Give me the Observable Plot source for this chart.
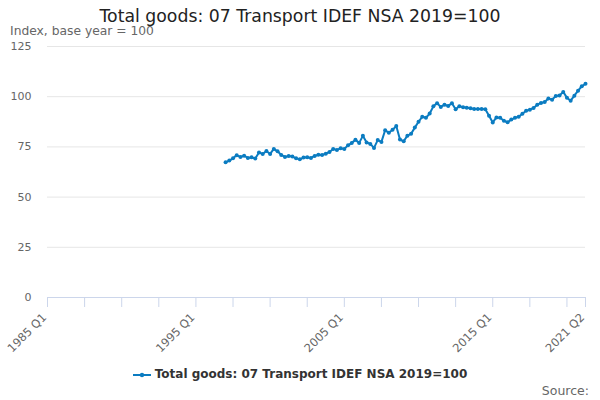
<!DOCTYPE html>
<html>
<head>
<meta charset="utf-8">
<script src="https://cdn.jsdelivr.net/npm/d3@7"></script>
<script src="https://cdn.jsdelivr.net/npm/@observablehq/plot@0.6"></script>
<style>
  html, body { margin: 0; padding: 0; background: #fff; }
  #wrap { position: relative; width: 600px; height: 400px; font-family: "DejaVu Sans", sans-serif; overflow: hidden; }
  #title { position: absolute; top: 6px; left: 0; width: 600px; text-align: center; font-size: 17.3px; color: #222; }
  #subtitle { position: absolute; top: 24px; left: 10px; font-size: 12.3px; color: #666; }
  #legend { position: absolute; top: 367px; left: 0; width: 600px; text-align: center; font-size: 12px; font-weight: bold; color: #333; }
  #legend svg { vertical-align: middle; margin-right: 4px; }
  #source { position: absolute; top: 383px; right: 11px; font-size: 12.5px; color: #666; }
  #chart { position: absolute; top: 0; left: 0; }
</style>
</head>
<body>
<div id="wrap">
  <div id="chart"></div>
  <div id="title">Total goods: 07 Transport IDEF NSA 2019=100</div>
  <div id="subtitle">Index, base year = 100</div>
  <div id="legend"><svg width="18" height="8"><line x1="0" y1="4" x2="18" y2="4" stroke="#0b7cc1" stroke-width="2"/><circle cx="9" cy="4" r="2.2" fill="#0b7cc1"/></svg>Total goods: 07 Transport IDEF NSA 2019=100</div>
  <div id="source">Source:</div>
</div>
<script>
// Axis quarters: index 0 = 1985 Q1, 145 = 2021 Q2
const firstYear = 1985;
const startQuarterIndex = 48; // 1997 Q1
const values = [
  67.3, 68.2, 69.3, 70.8, 70.0, 70.6, 69.5, 69.8, 69.2, 72.2,
  71.5, 73.0, 71.5, 74.0, 72.8, 71.0, 70.0, 70.5, 70.2, 69.3,
  68.8, 69.7, 69.8, 69.5, 70.5, 71.1, 71.0, 71.6, 72.5, 74.0,
  73.5, 74.3, 74.0, 75.8, 77.0, 78.5, 77.0, 80.5, 77.2, 76.5,
  74.5, 78.4, 77.5, 83.3, 82.0, 83.5, 85.4, 78.7, 77.8, 80.6,
  81.5, 84.6, 87.5, 90.0, 89.5, 91.6, 95.2, 96.8, 94.9, 96.0,
  95.4, 96.7, 93.7, 95.3, 94.8, 94.5, 94.2, 93.9, 93.9, 93.9,
  93.8, 90.5, 87.2, 89.7, 89.5, 88.0, 87.3, 88.6, 89.5, 90.0,
  91.5, 93.0, 93.5, 94.4, 96.0, 96.9, 97.4, 99.1, 98.5, 100.4,
  100.6, 102.4, 99.5, 98.0, 100.5, 103.0, 105.2, 106.4
];
const tickQuarters = [0, 10, 20, 30, 40, 50, 60, 70, 80, 90, 100, 110, 120, 130, 140, 145];
const labelQuarters = [0, 40, 80, 120, 145];
const yTicks = [0, 25, 50, 75, 100, 125];

const qLabel = q => `${firstYear + Math.floor(q / 4)} Q${(q % 4) + 1}`;
const data = values.map((v, i) => ({q: startQuarterIndex + i, v}));
const blue = "#0b7cc1";

const plot = Plot.plot({
  width: 600,
  height: 400,
  marginLeft: 47,
  marginRight: 15,
  marginTop: 46,
  marginBottom: 103,
  style: {fontFamily: "DejaVu Sans, sans-serif", fontSize: "11px", background: "transparent"},
  x: {domain: [0, 145]},
  y: {domain: [0, 125]},
  marks: [
    Plot.gridY(yTicks.filter(d => d > 0), {stroke: "#e6e6e6", strokeOpacity: 1}),
    Plot.axisY({ticks: yTicks, tickSize: 0, tickPadding: 16, color: "#666", label: null, fontSize: 11}),
    Plot.ruleY([0], {stroke: "#ccd6eb"}),
    Plot.axisX({ticks: tickQuarters, tickSize: 10, stroke: "#ccd6eb", strokeOpacity: 1, tickFormat: () => "", label: null}),
    Plot.axisX({ticks: labelQuarters, tickSize: 0, tickPadding: 18, dx: -3, tickRotate: -45, tickFormat: qLabel, fill: "#666", label: null, fontSize: 11.5}),
    Plot.line(data, {x: "q", y: "v", stroke: blue, strokeWidth: 2}),
    Plot.dot(data, {x: "q", y: "v", fill: blue, r: 2})
  ]
});
document.getElementById("chart").appendChild(plot);
</script>
</body>
</html>
